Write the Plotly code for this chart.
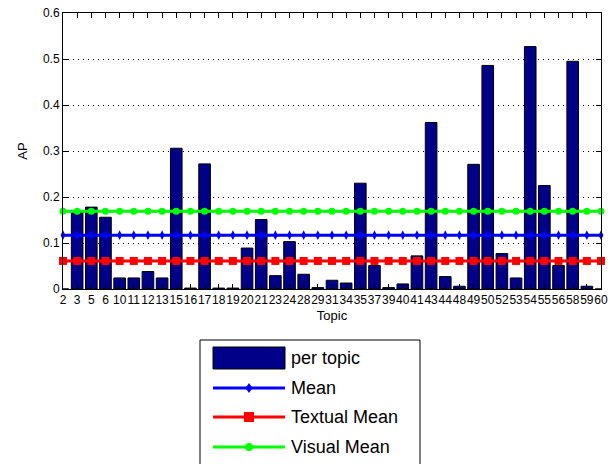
import plotly.graph_objects as go

# ---- data ----
topics = ["2", "3", "5", "6", "10", "11", "12", "13", "15", "16", "17", "18", "19",
          "20", "21", "23", "24", "28", "29", "31", "34", "35", "37", "39", "40",
          "41", "43", "44", "48", "49", "50", "52", "53", "54", "55", "56", "58",
          "59", "60"]
ap_per_topic = [0.0, 0.168, 0.178, 0.156, 0.024, 0.024, 0.038, 0.024, 0.306, 0.002,
                0.272, 0.002, 0.002, 0.089, 0.151, 0.029, 0.103, 0.032, 0.003, 0.019,
                0.013, 0.230, 0.051, 0.003, 0.011, 0.072, 0.362, 0.027, 0.006, 0.271,
                0.486, 0.077, 0.024, 0.527, 0.225, 0.051, 0.495, 0.006, 0.0]
mean_ap = 0.117
textual_mean_ap = 0.061
visual_mean_ap = 0.169
y_ticks = [0, 0.1, 0.2, 0.3, 0.4, 0.5, 0.6]
y_ticklabels = ["0", "0.1", "0.2", "0.3", "0.4", "0.5", "0.6"]

# ---- style ----
FONT = "Liberation Sans, Arial, Helvetica, sans-serif"
BAR_COLOR = "#000088"
W_FIG, H_FIG = 613, 464
ML, MR, MT, MB = 63, 12, 13, 175
PW = W_FIG - ML - MR
PH = H_FIG - MT - MB
BOTTOM = MT + PH


def px(x):
    return (x - ML) / PW


def py(y):
    return (BOTTOM - y) / PH


fig = go.Figure()
fig.add_trace(go.Bar(x=topics, y=ap_per_topic, name="per topic",
                     marker=dict(color=BAR_COLOR, line=dict(color="#000000", width=1)),
                     showlegend=False))
lines = [
    ("Mean", mean_ap, "#0000ff", "diamond-tall", 7),
    ("Textual Mean", textual_mean_ap, "#ff0000", "square", 8),
    ("Visual Mean", visual_mean_ap, "#00ff00", "circle", 7),
]
for name, val, col, sym, size in lines:
    fig.add_trace(go.Scatter(x=topics, y=[val] * len(topics), mode="lines+markers",
                             name=name, line=dict(color=col, width=3),
                             marker=dict(color=col, symbol=sym, size=size, line=dict(width=0)),
                             cliponaxis=False, showlegend=False))

# ---- manual legend (MATLAB style) ----
shapes = []
annotations = []
LX0, LX1, LY0, LY1 = 200, 420, 340, 490
shapes.append(dict(type="rect", xref="paper", yref="paper",
                   x0=px(LX0), x1=px(LX1), y0=py(LY1), y1=py(LY0),
                   line=dict(color="#000000", width=1), fillcolor="white", layer="above"))
shapes.append(dict(type="rect", xref="paper", yref="paper",
                   x0=px(213), x1=px(285), y0=py(369), y1=py(347),
                   line=dict(color="#000000", width=1), fillcolor=BAR_COLOR, layer="above"))
annotations.append(dict(text="per topic", xref="paper", yref="paper", x=px(289), y=py(358),
                        xanchor="left", yanchor="middle", showarrow=False,
                        font=dict(family=FONT, size=18, color="black")))
row_y = [388, 417, 447]
for (name, val, col, sym, size), yy in zip(lines, row_y):
    shapes.append(dict(type="line", xref="paper", yref="paper",
                       x0=px(213), x1=px(285), y0=py(yy), y1=py(yy),
                       line=dict(color=col, width=3), layer="above"))
    cx = 249
    if sym == "square":
        shapes.append(dict(type="rect", xref="paper", yref="paper",
                           x0=px(cx - 5), x1=px(cx + 5), y0=py(yy + 5), y1=py(yy - 5),
                           line=dict(width=0), fillcolor=col, layer="above"))
    elif sym == "circle":
        shapes.append(dict(type="circle", xref="paper", yref="paper",
                           x0=px(cx - 4), x1=px(cx + 4), y0=py(yy + 4), y1=py(yy - 4),
                           line=dict(width=0), fillcolor=col, layer="above"))
    else:
        path = "M {a},{b} L {c},{d} L {a},{e} L {f},{d} Z".format(
            a=px(cx), b=py(yy - 5), c=px(cx + 3.5), d=py(yy), e=py(yy + 5), f=px(cx - 3.5))
        shapes.append(dict(type="path", xref="paper", yref="paper", path=path,
                           line=dict(width=0), fillcolor=col, layer="above"))
    annotations.append(dict(text=name, xref="paper", yref="paper", x=px(289), y=py(yy),
                            xanchor="left", yanchor="middle", showarrow=False,
                            font=dict(family=FONT, size=18, color="black")))

fig.update_layout(
    width=W_FIG, height=H_FIG,
    margin=dict(l=ML, r=MR, t=MT, b=MB, pad=0, autoexpand=False),
    paper_bgcolor="white", plot_bgcolor="white",
    font=dict(family=FONT, size=12, color="black"),
    bargap=0.18,
    showlegend=False,
    hovermode=False,
    shapes=shapes, annotations=annotations,
    xaxis=dict(type="category", categoryorder="array", categoryarray=topics,
               range=[0, len(topics) - 1], tickmode="array", tickvals=topics,
               ticktext=topics, tickangle=0, ticks="inside", ticklen=5,
               tickcolor="black", showline=True, linecolor="black", linewidth=1,
               mirror="ticks", showgrid=False, zeroline=False, automargin=False,
               ticklabeloverflow="allow", tickfont=dict(size=12),
               title=dict(text="Topic", standoff=4, font=dict(size=13))),
    yaxis=dict(range=[0, 0.6], tickmode="array", tickvals=y_ticks, ticktext=y_ticklabels,
               ticks="inside", ticklen=5, tickcolor="black", showline=True,
               linecolor="black", linewidth=1, mirror="ticks", automargin=False,
               showgrid=True, gridcolor="#000000", gridwidth=1, griddash="1px,4px",
               zeroline=False, ticklabeloverflow="allow", tickfont=dict(size=12),
               title=dict(text="AP", standoff=12, font=dict(size=13))),
)

fig.write_html("out.html", config={"displayModeBar": False},
               post_script="document.body.style.margin='0';document.body.style.overflow='hidden';")
